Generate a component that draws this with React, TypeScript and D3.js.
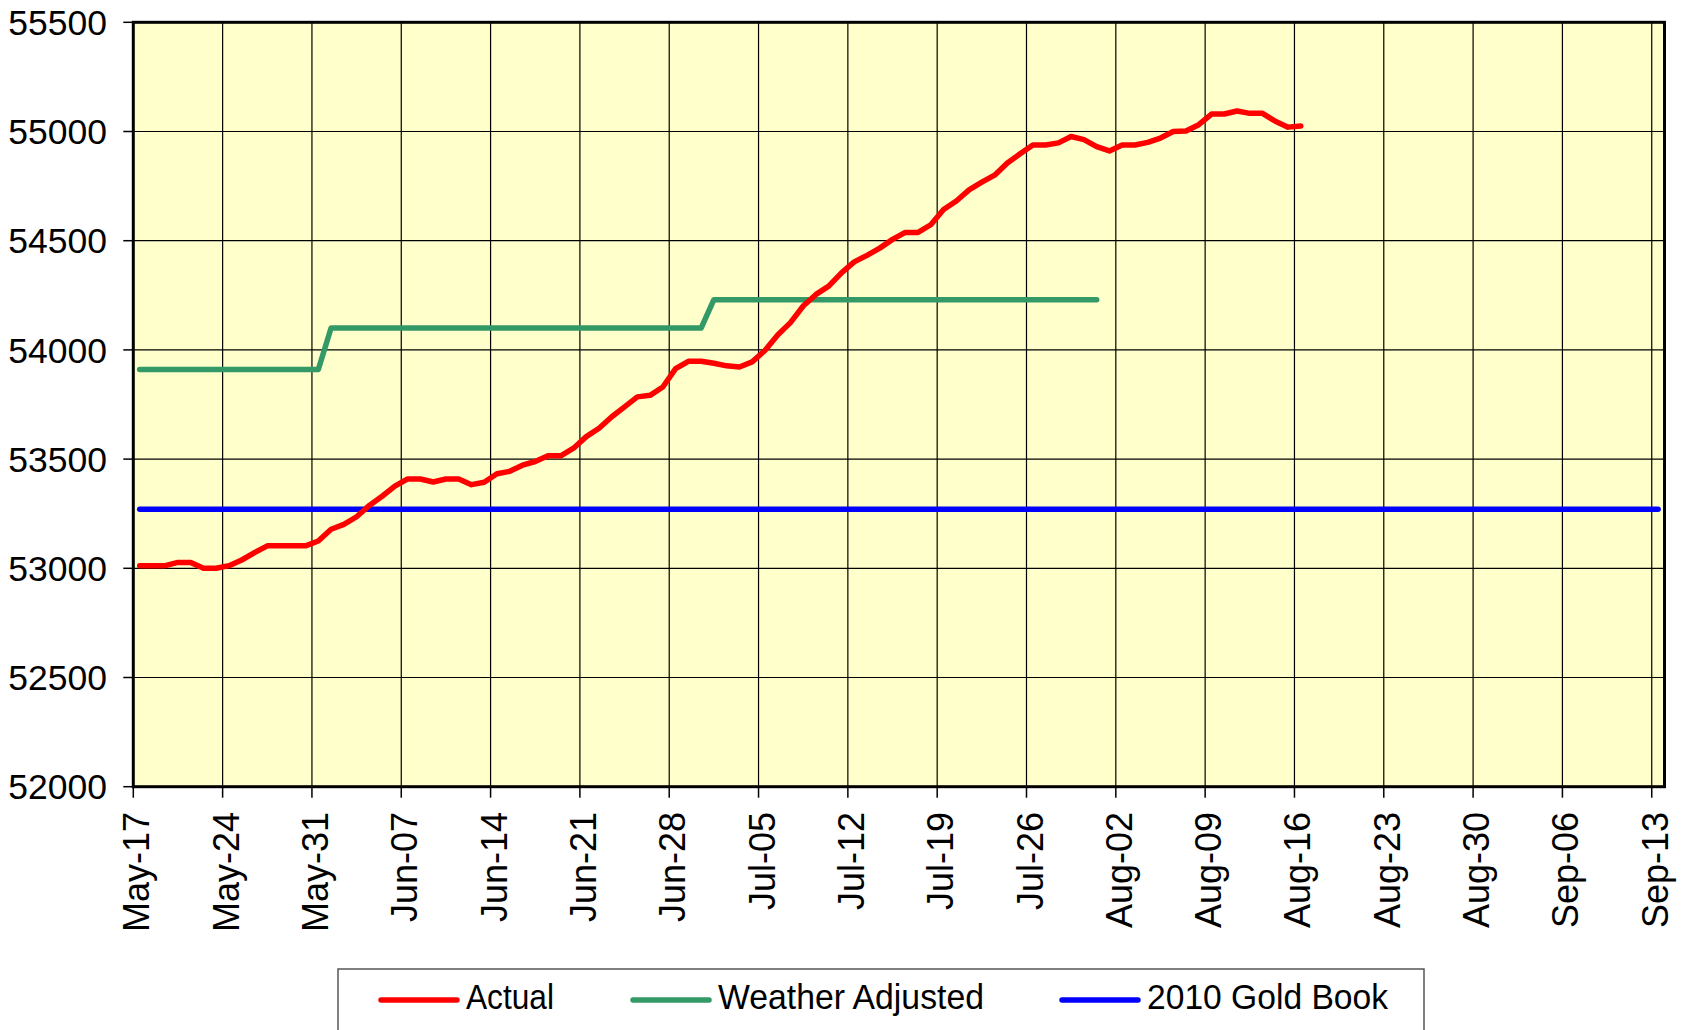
import React from 'react';
import * as d3 from 'd3';

const startDate = '2010-05-17';
const endDate = '2010-09-14';

// Daily "Actual" values starting May-17
const actualValues = [
  53012, 53012, 53012, 53027, 53027, 53000, 53000, 53012, 53038, 53072,
  53103, 53103, 53103, 53103, 53125, 53179, 53201, 53236, 53288, 53330,
  53376, 53409, 53409, 53395, 53409, 53409, 53383, 53394, 53433, 53444,
  53472, 53489, 53515, 53515, 53550, 53603, 53641, 53694, 53739, 53785,
  53792, 53830, 53914, 53948, 53948, 53939, 53927, 53922, 53945, 53997,
  54068, 54125, 54201, 54254, 54292, 54353, 54403, 54433, 54466, 54506,
  54538, 54538, 54573, 54643, 54682, 54733, 54768, 54800, 54856, 54898,
  54938, 54938, 54948, 54977, 54963, 54931, 54911, 54938, 54938, 54950,
  54970, 55000, 55002, 55031, 55080, 55080, 55094, 55083, 55083, 55047,
  55020, 55025,
];

// Weather Adjusted: step series (vertices)
const weatherDates = ['2010-05-17', '2010-05-31', '2010-06-01', '2010-06-30', '2010-07-01', '2010-07-31'];
const weatherValues = [53910, 53910, 54100, 54100, 54230, 54230];

// 2010 Gold Book: flat
const goldBookDates = ['2010-05-17', '2010-09-13'];
const goldBookValues = [53270, 53270];

const yTicks = [52000, 52500, 53000, 53500, 54000, 54500, 55000, 55500];
const xTickDates = [
  '2010-05-17', '2010-05-24', '2010-05-31', '2010-06-07', '2010-06-14', '2010-06-21',
  '2010-06-28', '2010-07-05', '2010-07-12', '2010-07-19', '2010-07-26', '2010-08-02',
  '2010-08-09', '2010-08-16', '2010-08-23', '2010-08-30', '2010-09-06', '2010-09-13',
];
const seriesNames = ['Actual', 'Weather Adjusted', '2010 Gold Book'];
const seriesColors = ['#FF0000', '#339966', '#0000FF'];

export default function App() {
  const W = 1694;
  const H = 1030;
  const left = 133.3, right = 1664.5, top = 22.3, bottom = 786.7;
  const parse = d3.utcParse('%Y-%m-%d');
  const t0 = parse(startDate) as Date;
  const x = d3.scaleUtc().domain([t0, parse(endDate) as Date]).range([left, right]);
  const y = d3.scaleLinear().domain([52000, 55500]).range([bottom, top]);
  const fmt = d3.utcFormat('%b-%d');
  const px = (dt: Date) => x(d3.utcHour.offset(dt, 12));
  const line = d3.line<[number, number]>();

  const actualPts: [number, number][] = actualValues.map((v, i) => [px(d3.utcDay.offset(t0, i)), y(v)]);
  const weatherPts: [number, number][] = weatherDates.map((d, i) => [px(parse(d) as Date), y(weatherValues[i])]);
  const goldPts: [number, number][] = goldBookDates.map((d, i) => [px(parse(d) as Date), y(goldBookValues[i])]);

  const font = "'Liberation Sans', Arial, sans-serif";
  const ticks = xTickDates.map((d) => parse(d) as Date);

  const legendX = [381, 633, 1062];
  const legendTextLen = [88, 266, 241];

  return (
    <svg width={W} height={H} style={{ position: 'absolute', left: 0, top: 0, display: 'block', background: '#fff' }}>
      <rect x={left} y={top} width={right - left} height={bottom - top} fill="#FFFFCC" />
      {yTicks.map((v) => (
        <line key={'gy' + v} x1={left} x2={right} y1={y(v)} y2={y(v)} stroke="#000" strokeWidth={1.2} />
      ))}
      {ticks.map((d, i) => (
        <line key={'gx' + i} x1={x(d)} x2={x(d)} y1={top} y2={bottom} stroke="#000" strokeWidth={1.2} />
      ))}
      {yTicks.map((v) => (
        <line key={'ty' + v} x1={left - 10} x2={left} y1={y(v)} y2={y(v)} stroke="#000" strokeWidth={1.5} />
      ))}
      {ticks.map((d, i) => (
        <line key={'tx' + i} x1={x(d)} x2={x(d)} y1={bottom} y2={bottom + 11} stroke="#000" strokeWidth={1.5} />
      ))}
      <path d={line(goldPts) || ''} fill="none" stroke={seriesColors[2]} strokeWidth={5.5} strokeLinecap="round" strokeLinejoin="round" />
      <path d={line(weatherPts) || ''} fill="none" stroke={seriesColors[1]} strokeWidth={5.5} strokeLinecap="round" strokeLinejoin="round" />
      <path d={line(actualPts) || ''} fill="none" stroke={seriesColors[0]} strokeWidth={5.5} strokeLinecap="round" strokeLinejoin="round" />
      <rect x={left} y={top} width={right - left} height={bottom - top} fill="none" stroke="#000" strokeWidth={3} />
      {yTicks.map((v) => (
        <text key={'ly' + v} x={107} y={y(v)} dy="0.36em" textAnchor="end" fontFamily={font} fontSize={35.5} fill="#000">
          {v}
        </text>
      ))}
      {ticks.map((d, i) => (
        <text
          key={'lx' + i}
          transform={`translate(${x(d)},${812}) rotate(-90)`}
          dy={16}
          textAnchor="end"
          fontFamily={font}
          fontSize={36}
          fill="#000"
        >
          {fmt(d)}
        </text>
      ))}
      <rect x={338} y={969} width={1086} height={90} fill="#fff" stroke="#555" strokeWidth={1.5} />
      {seriesNames.map((n, i) => (
        <g key={'lg' + i}>
          <line x1={legendX[i]} x2={legendX[i] + 76} y1={1000} y2={1000} stroke={seriesColors[i]} strokeWidth={5.5} strokeLinecap="round" />
          <text x={legendX[i] + 85} y={1009} fontFamily={font} fontSize={35} fill="#000" textLength={legendTextLen[i]} lengthAdjust="spacingAndGlyphs">
            {n}
          </text>
        </g>
      ))}
    </svg>
  );
}
